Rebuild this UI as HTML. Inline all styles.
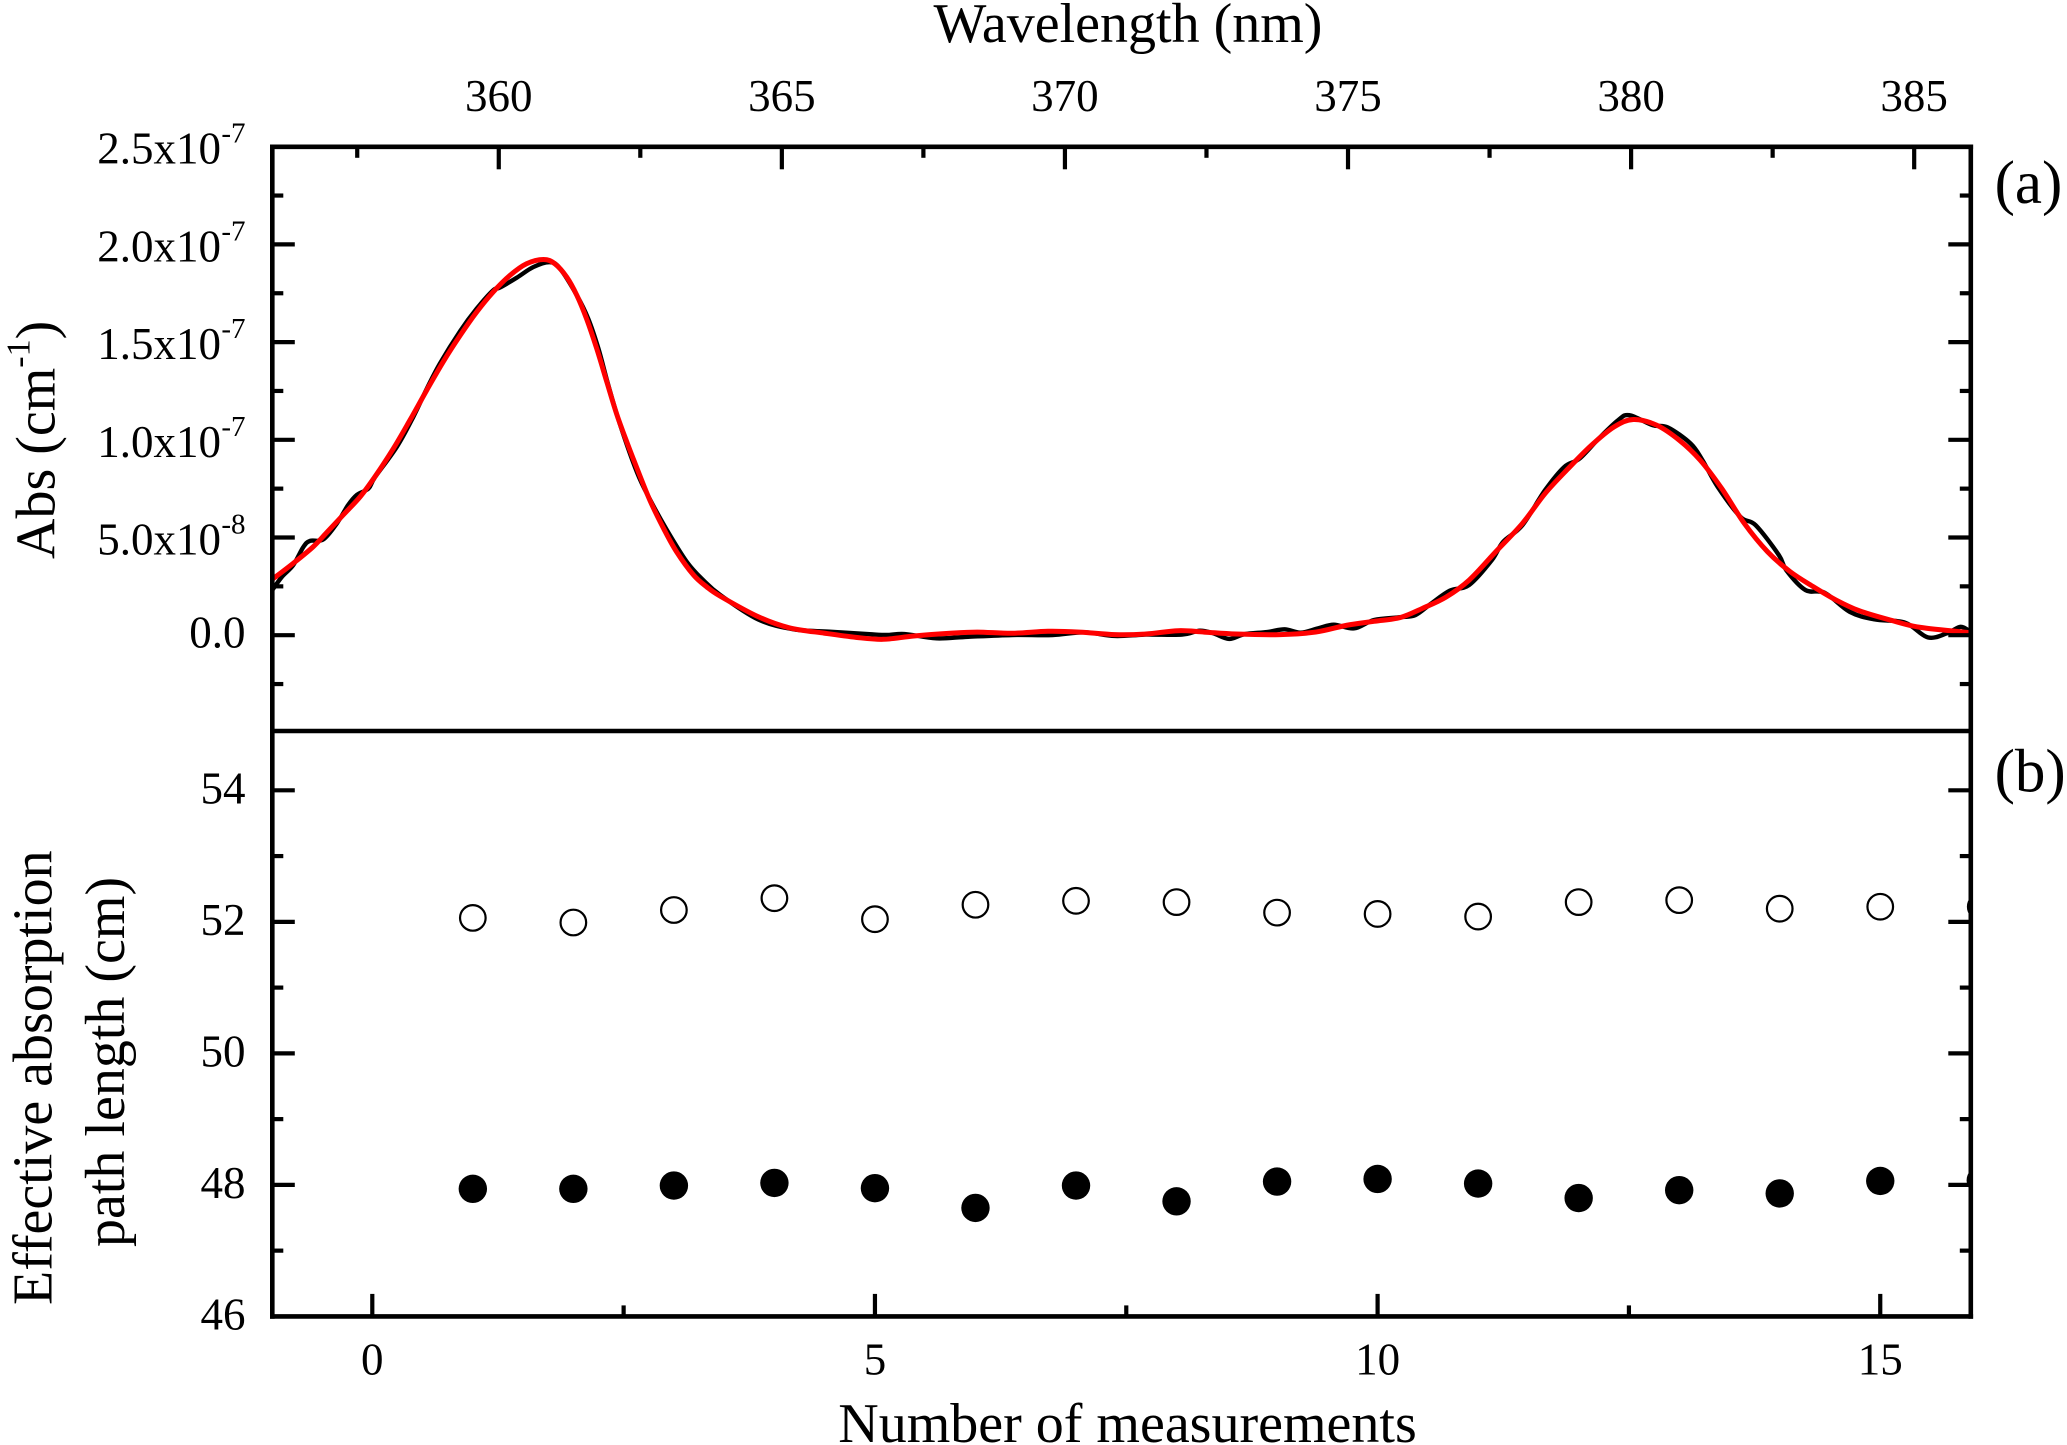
<!DOCTYPE html>
<html lang="en">
<head>
<meta charset="utf-8">
<title>Abs spectrum and effective absorption path length</title>
<style>
html,body{margin:0;padding:0;background:#fff;}
svg{display:block;}
text{font-family:"Liberation Serif","Times New Roman",serif;fill:#000;}
</style>
</head>
<body>
<svg id="chart" xmlns="http://www.w3.org/2000/svg" width="2067" height="1445" viewBox="0 0 2067 1445">
  <rect x="0" y="0" width="2067" height="1445" fill="#fff"/>
  <defs>
    <clipPath id="clip-a"><rect x="272.3" y="146.8" width="1698.5" height="584.2"/></clipPath>
    <clipPath id="clip-b"><rect x="272.3" y="731" width="1698.5" height="585.4"/></clipPath>
  </defs>
  <g id="panel-a-marks" clip-path="url(#clip-a)"></g>
  <g id="panel-b-marks" clip-path="url(#clip-b)"></g>
  <g id="axes"></g>
  <g id="labels"></g>

  <text x="1128" y="42" font-size="56" text-anchor="middle">Wavelength (nm)</text>
  <text x="1127.5" y="1442" font-size="56" text-anchor="middle">Number of measurements</text>
  <text transform="translate(54.5 559) rotate(-90)" font-size="56">Abs (cm<tspan font-size="34" dy="-25">-1</tspan><tspan dy="25">)</tspan></text>
  <text transform="translate(51.3 1305) rotate(-90)" font-size="56">Effective absorption</text>
  <text transform="translate(124 1247) rotate(-90)" font-size="56">path length (cm)</text>
  <text x="1994.6" y="203" font-size="61">(a)</text>
  <text x="1994.6" y="791.7" font-size="61">(b)</text>
</svg>
<script>
// Panel (a) data: wavelength in nm, absorbance in units of 1e-8 cm^-1
const measuredWavelength = [356.00,356.17,356.37,356.55,356.67,356.90,357.14,357.34,357.49,357.70,357.81,358.20,358.49,358.73,358.96,359.32,359.61,359.90,360.02,360.32,360.61,360.90,361.08,361.38,361.58,361.76,361.93,362.14,362.44,362.67,362.97,363.32,363.61,363.91,364.58,365.21,365.84,366.55,366.87,367.17,367.73,368.29,369.07,369.78,370.34,370.88,371.43,372.07,372.38,372.62,372.90,373.17,373.57,373.88,374.16,374.47,374.75,375.11,375.46,375.92,376.19,376.46,376.80,377.14,377.54,377.74,378.08,378.48,378.82,379.09,379.43,379.77,379.97,380.38,380.65,381.05,381.26,381.53,381.93,382.20,382.61,382.74,383.08,383.42,383.86,384.30,384.84,385.24,385.58,385.82,385.99];
const measuredAbs = [2.31,2.99,3.59,4.52,4.83,4.90,5.72,6.66,7.17,7.51,8.07,9.64,11.17,12.62,13.90,15.57,16.71,17.65,17.79,18.30,18.84,19.09,18.77,17.39,16.20,14.67,12.85,10.80,8.35,6.95,5.38,3.76,2.82,2.06,0.81,0.30,0.18,0.05,0.01,0.06,-0.16,-0.08,0.01,0.01,0.15,-0.04,0.03,0.03,0.23,0.10,-0.19,0.05,0.16,0.30,0.13,0.35,0.54,0.35,0.78,0.92,1.03,1.60,2.28,2.57,3.84,4.78,5.63,7.42,8.61,9.04,10.07,11.00,11.26,10.75,10.63,9.81,8.96,7.59,6.06,5.63,4.10,3.33,2.31,2.17,1.20,0.81,0.64,-0.11,0.10,0.43,0.18];
const fitWavelength = [356.00,356.37,356.72,356.96,357.25,357.55,357.81,358.14,358.43,358.73,359.02,359.32,359.61,359.90,360.20,360.49,360.79,360.99,361.20,361.38,361.55,361.73,361.91,362.08,362.26,362.44,362.67,362.91,363.14,363.44,363.67,363.91,364.58,365.13,365.76,366.31,366.79,367.33,367.97,368.45,369.07,369.70,370.26,370.88,371.43,372.00,372.46,373.02,373.80,374.43,374.98,375.46,375.92,376.32,376.73,377.14,377.61,378.08,378.48,378.89,379.30,379.70,380.04,380.45,380.85,381.22,381.60,382.00,382.41,382.81,383.22,383.62,384.03,384.57,385.11,385.99];
const fitAbs = [2.86,3.68,4.52,5.25,6.15,7.08,8.10,9.56,11.00,12.55,14.00,15.35,16.54,17.56,18.42,19.01,19.23,19.01,18.33,17.39,16.20,14.67,12.95,11.34,9.90,8.55,6.90,5.47,4.27,3.08,2.48,2.00,0.95,0.38,0.10,-0.11,-0.21,-0.04,0.10,0.16,0.10,0.20,0.16,0.03,0.06,0.23,0.16,0.06,0.03,0.16,0.51,0.71,0.90,1.38,1.95,2.82,4.27,5.72,7.25,8.53,9.72,10.66,11.04,10.75,9.98,8.96,7.51,5.72,4.27,3.25,2.48,1.80,1.25,0.78,0.40,0.13];

// Panel (b) data
const measurementNumbers = [1,2,3,4,5,6,7,8,9,10,11,12,13,14,15,16];
const openSeries = [52.06,51.99,52.18,52.36,52.04,52.26,52.32,52.30,52.14,52.12,52.08,52.30,52.33,52.20,52.23,52.23];
const filledSeries = [47.94,47.94,47.99,48.03,47.95,47.65,47.99,47.75,48.05,48.09,48.02,47.80,47.92,47.87,48.06,48.07];

// Tick data
const topTicks = [360,365,370,375,380,385];
const topMinorTicks = [357.5,362.5,367.5,372.5,377.5,382.5];
const topTickLabels = ["360","365","370","375","380","385"];
const bottomTicks = [0,5,10,15];
const bottomMinorTicks = [2.5,7.5,12.5];
const bottomTickLabels = ["0","5","10","15"];
const absTicks = [0,5,10,15,20,25];
const absMinorTicks = [-2.5,2.5,7.5,12.5,17.5,22.5];
const absTickMantissas = ["0.0","5.0x10","1.0x10","1.5x10","2.0x10","2.5x10"];
const absTickExponents = ["","-8","-7","-7","-7","-7"];
const pathTicks = [46,48,50,52,54];
const pathMinorTicks = [47,49,51,53];
const pathTickLabels = ["46","48","50","52","54"];

const SVGNS = "http://www.w3.org/2000/svg";
const LEFT = 272.3, RIGHT = 1970.8, TOP = 146.8, MID = 731, BOTTOM = 1316.4;

function xWave(w){ return LEFT + (w - 356) * (RIGHT - LEFT) / 30; }
function xCount(n){ return 372.3 + n * 100.53; }
function yAbs(v){ return 635.2 - v * 19.54; }
function yPath(v){ return BOTTOM - (v - 46) * 65.76; }

function make(tag, parent, name, attrs){
  const el = document.createElementNS(SVGNS, tag);
  
  
  for (const k in attrs) el.setAttribute(k, attrs[k]);
  parent.appendChild(el);
  return el;
}

function smoothPath(xs, ys){
  const p = xs.map((x, i) => [x, ys[i]]);
  let d = "M" + p[0][0].toFixed(2) + " " + p[0][1].toFixed(2);
  for (let i = 0; i < p.length - 1; i++){
    const a = p[Math.max(i - 1, 0)], b = p[i], c = p[i + 1], e = p[Math.min(i + 2, p.length - 1)];
    const c1x = b[0] + (c[0] - a[0]) / 6, c1y = b[1] + (c[1] - a[1]) / 6;
    const c2x = c[0] - (e[0] - b[0]) / 6, c2y = c[1] - (e[1] - b[1]) / 6;
    d += "C" + c1x.toFixed(2) + " " + c1y.toFixed(2) + " " + c2x.toFixed(2) + " " + c2y.toFixed(2) + " " + c[0].toFixed(2) + " " + c[1].toFixed(2);
  }
  return d;
}

const marksA = document.getElementById("panel-a-marks");
const marksB = document.getElementById("panel-b-marks");
const axes = document.getElementById("axes");
const labels = document.getElementById("labels");

make("path", marksA, "measured-spectrum-line", {
  d: smoothPath(measuredWavelength.map(xWave), measuredAbs.map(yAbs)),
  fill: "none", stroke: "#000", "stroke-width": 4.4, "stroke-linejoin": "round"
});
make("path", marksA, "fit-spectrum-line", {
  d: smoothPath(fitWavelength.map(xWave), fitAbs.map(yAbs)),
  fill: "none", stroke: "#f00", "stroke-width": 5, "stroke-linejoin": "round"
});

measurementNumbers.forEach((n, i) => {
  make("circle", marksB, "open-point-" + n, {
    cx: xCount(n), cy: yPath(openSeries[i]), r: 12.8,
    fill: "#fff", stroke: "#000", "stroke-width": 2.2
  });
  make("circle", marksB, "filled-point-" + n, {
    cx: xCount(n), cy: yPath(filledSeries[i]), r: 14.2, fill: "#000"
  });
});

function seg(name, x1, y1, x2, y2, w){
  make("line", axes, name, { x1: x1, y1: y1, x2: x2, y2: y2, stroke: "#000", "stroke-width": w });
}

const MAJOR = 22.5, MINOR = 11, TW = 4.2, AW = 4.6;

// axis frame
seg("left-axis-line", LEFT, TOP - 2.3, LEFT, BOTTOM + 2.3, AW);
seg("right-axis-line", RIGHT, TOP - 2.3, RIGHT, BOTTOM + 2.3, AW);
seg("top-axis-line", LEFT - 2.3, TOP, RIGHT + 2.3, TOP, AW);
seg("panel-divider-line", LEFT, MID, RIGHT, MID, AW);
seg("bottom-axis-line", LEFT - 2.3, BOTTOM, RIGHT + 2.3, BOTTOM, AW);

// top x axis
topTicks.forEach((t, i) => {
  seg("top-x-tick-" + t, xWave(t), TOP, xWave(t), TOP + MAJOR, TW);
  const lab = make("text", labels, "top-x-tick-label-" + t, { x: xWave(t), y: 111, "font-size": 45, "text-anchor": "middle" });
  lab.textContent = topTickLabels[i];
});
topMinorTicks.forEach(t => seg("top-x-minor-tick", xWave(t), TOP, xWave(t), TOP + MINOR, TW));

// bottom x axis
bottomTicks.forEach((t, i) => {
  seg("bottom-x-tick-" + t, xCount(t), BOTTOM, xCount(t), BOTTOM - MAJOR, TW);
  const lab = make("text", labels, "bottom-x-tick-label-" + t, { x: xCount(t), y: 1374.5, "font-size": 45, "text-anchor": "middle" });
  lab.textContent = bottomTickLabels[i];
});
bottomMinorTicks.forEach(t => seg("bottom-x-minor-tick", xCount(t), BOTTOM, xCount(t), BOTTOM - MINOR, TW));

// absorbance y axis
absTicks.forEach((t, i) => {
  const y = yAbs(t);
  seg("abs-left-tick", LEFT, y, LEFT + MAJOR, y, TW);
  seg("abs-right-tick", RIGHT, y, RIGHT - MAJOR, y, TW);
  const exp = absTickExponents[i];
  if (exp){
    const lab = make("text", labels, "abs-tick-label", { x: 221, y: y + 17, "font-size": 45, "text-anchor": "end" });
    lab.textContent = absTickMantissas[i];
    const sup = make("text", labels, "abs-tick-exponent", { x: 245.5, y: y + 17 - 21, "font-size": 29, "text-anchor": "end" });
    sup.textContent = exp;
  } else {
    const lab = make("text", labels, "abs-tick-label", { x: 245.5, y: y + 12.5, "font-size": 45, "text-anchor": "end" });
    lab.textContent = absTickMantissas[i];
  }
});
absMinorTicks.forEach(t => {
  const y = yAbs(t);
  seg("abs-left-minor-tick", LEFT, y, LEFT + MINOR, y, TW);
  seg("abs-right-minor-tick", RIGHT, y, RIGHT - MINOR, y, TW);
});

// path length y axis
pathTicks.forEach((t, i) => {
  const y = yPath(t);
  if (t !== 46){
    seg("path-left-tick", LEFT, y, LEFT + MAJOR, y, TW);
    seg("path-right-tick", RIGHT, y, RIGHT - MAJOR, y, TW);
  }
  const lab = make("text", labels, "path-tick-label-" + t, { x: 245.5, y: y + 13, "font-size": 45, "text-anchor": "end" });
  lab.textContent = pathTickLabels[i];
});
pathMinorTicks.forEach(t => {
  const y = yPath(t);
  seg("path-left-minor-tick", LEFT, y, LEFT + MINOR, y, TW);
  seg("path-right-minor-tick", RIGHT, y, RIGHT - MINOR, y, TW);
});
</script>
</body>
</html>
